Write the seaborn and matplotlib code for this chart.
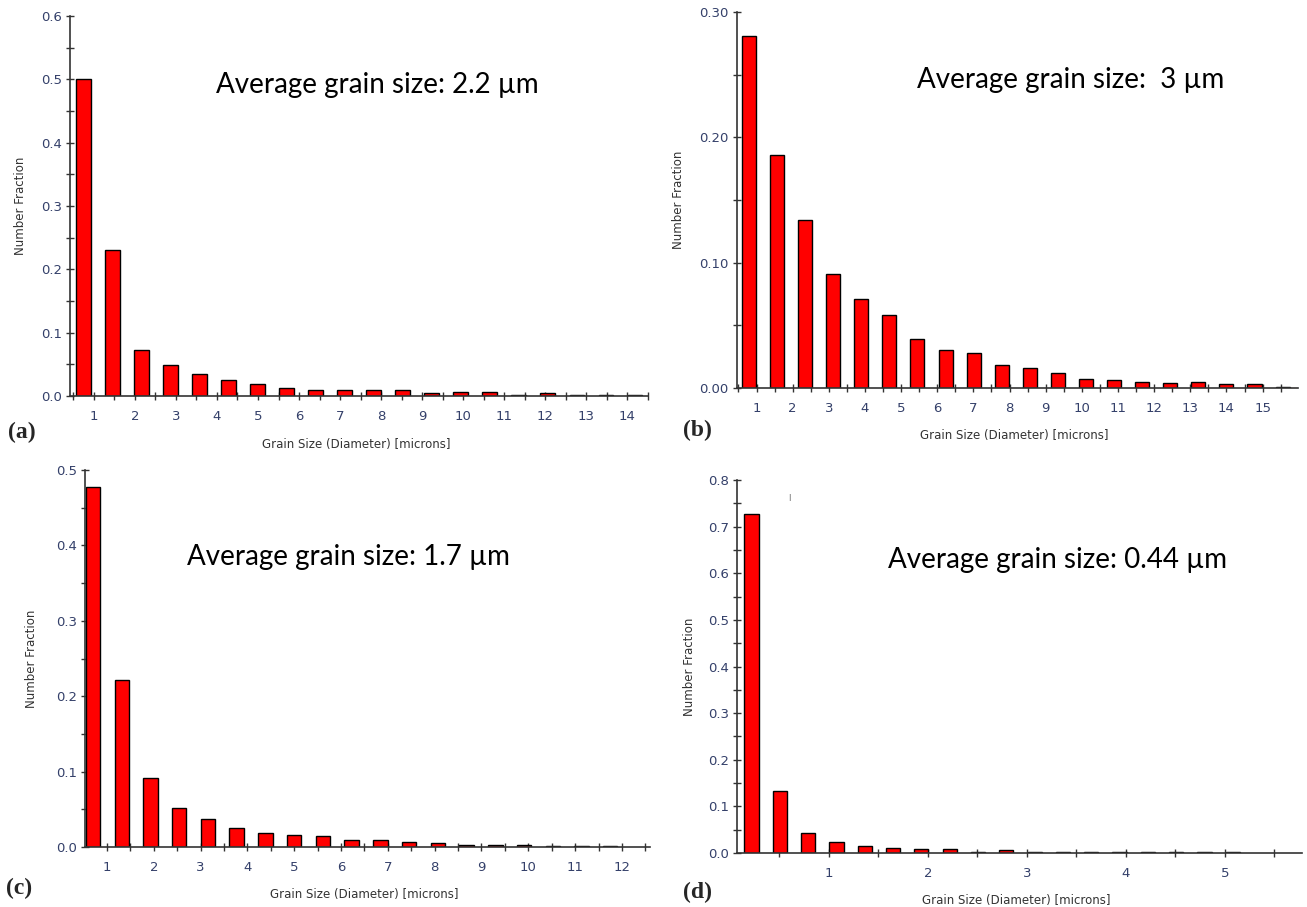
import numpy as np
import pandas as pd
import matplotlib
matplotlib.use("Agg")
import matplotlib.pyplot as plt
import seaborn as sns
from matplotlib.ticker import MultipleLocator, FormatStrFormatter

sns.set_style("ticks")
plt.rcParams['font.family'] = ['DejaVu Sans']

# ---------------------------------------------------------------------------
# Grain size histograms (number fraction per bin)
# ---------------------------------------------------------------------------
vals_a = [0.500, 0.230, 0.073, 0.049, 0.035, 0.025, 0.019, 0.013, 0.009, 0.009,
          0.009, 0.009, 0.004, 0.007, 0.007, 0.002, 0.004, 0.002, 0.002, 0.002]
vals_b = [0.281, 0.186, 0.134, 0.091, 0.071, 0.058, 0.039, 0.030, 0.028, 0.018,
          0.016, 0.012, 0.007, 0.006, 0.005, 0.004, 0.005, 0.003, 0.003, 0.001]
vals_c = [0.478, 0.221, 0.091, 0.052, 0.037, 0.025, 0.018, 0.016, 0.015, 0.009,
          0.009, 0.007, 0.005, 0.003, 0.003, 0.003, 0.001, 0.001, 0.001]
vals_d = [0.727, 0.132, 0.043, 0.024, 0.016, 0.011, 0.009, 0.009, 0.003, 0.006,
          0.003, 0.003, 0.003, 0.003, 0.003, 0.003, 0.003, 0.003]

# bin layout: centre of first bin and bin width [microns]
first_bin = {'a': 0.746, 'b': 0.79, 'c': 0.70, 'd': 0.219}
bin_width = {'a': 0.707, 'b': 0.777, 'c': 0.614, 'd': 0.286}

labels = ['(a)', '(b)', '(c)', '(d)']
avg_text = ['Average grain size: 2.2 µm', 'Average grain size:  3 µm',
            'Average grain size: 1.7 µm', 'Average grain size: 0.44 µm']
y_max = [0.6, 0.30, 0.5, 0.8]
y_fmt = ['%.1f', '%.2f', '%.1f', '%.1f']
x_lims = [(0.42, 14.5), (0.46, 15.98), (0.53, 12.6), (0.072, 5.78)]
x_last_label = [14, 15, 12, 5]

# axes boxes in pixels (left, top, right, bottom)
W, H = 1307, 907
boxes = [(70, 16, 648, 396), (737, 12, 1298, 388),
         (85, 470, 650, 847), (737, 480, 1302, 853)]
ylabel_x = [-0.074, -0.092, -0.084, -0.072]
panel_pos = [(8, 432), (683, 430), (6, 888), (683, 892)]
avg_pos = [(216, 85), (917, 80), (187, 557), (888, 560)]

TICK_COL = '#34406a'
AX_COL = '#333333'

fig = plt.figure(figsize=(W / 100, H / 100), dpi=100)

for i, key in enumerate(['a', 'b', 'c', 'd']):
    vals = [vals_a, vals_b, vals_c, vals_d][i]
    centers = first_bin[key] + bin_width[key] * np.arange(len(vals))
    df = pd.DataFrame({'size': np.round(centers, 4), 'frac': vals})

    l, t, r, b = boxes[i]
    ax = fig.add_axes([l / W, 1 - b / H, (r - l) / W, (b - t) / H])
    sns.barplot(data=df, x='size', y='frac', native_scale=True, width=0.5,
                color='#ff0000', saturation=1, edgecolor='black',
                linewidth=1.0, ax=ax)

    ax.set_xlim(*x_lims[i])
    ax.set_ylim(0, y_max[i])
    ax.yaxis.set_major_locator(MultipleLocator(0.1))
    ax.yaxis.set_minor_locator(MultipleLocator(0.05))
    ax.yaxis.set_major_formatter(FormatStrFormatter(y_fmt[i]))
    ax.set_xticks(np.arange(1, x_last_label[i] + 1))
    ax.xaxis.set_minor_locator(MultipleLocator(0.5))

    sns.despine(ax=ax)
    for side in ['left', 'bottom']:
        ax.spines[side].set_color(AX_COL)
        ax.spines[side].set_linewidth(1.2)
    ax.tick_params(which='both', bottom=True, left=True, direction='inout',
                   length=6, width=1, color=AX_COL, labelcolor=TICK_COL,
                   labelsize=9.5)
    ax.tick_params(axis='x', which='major', pad=7)
    ax.tick_params(axis='y', which='major', pad=3)

    ax.set_xlabel('Grain Size (Diameter) [microns]', fontsize=8.5, color=AX_COL)
    ax.set_ylabel('Number Fraction', fontsize=8.5, color=AX_COL)
    ax.xaxis.set_label_coords(0.495, -0.11)
    ax.yaxis.set_label_coords(ylabel_x[i], 0.5)

    px, py = panel_pos[i]
    fig.text(px / W, 1 - py / H, labels[i], fontsize=17, fontweight='bold',
             family='Liberation Serif', ha='left', va='center')
    tx, ty = avg_pos[i]
    fig.text(tx / W, 1 - ty / H, avg_text[i], fontsize=20, family='Lato',
             ha='left', va='center', color='black')

# small stray mark in panel (d)
fig.text(789 / W, 1 - 498 / H, '|', fontsize=5, color='#444444',
         ha='center', va='center')

fig.savefig('out.png', dpi=100)
